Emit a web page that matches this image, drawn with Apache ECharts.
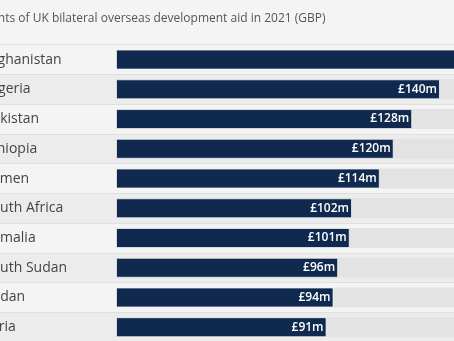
<!DOCTYPE html>
<html>
<head>
<meta charset="utf-8">
<script src="https://cdn.jsdelivr.net/npm/echarts@6/dist/echarts.min.js"></script>
<style>
html,body{margin:0;padding:0;background:#f4f4f4;}
#c{width:454px;height:341px;}
</style>
</head>
<body>
<div id="c"></div>
<script>
const titleText = 'Top recipients of UK bilateral overseas development aid in 2021 (GBP)';
const categories = ['Afghanistan','Nigeria','Pakistan','Ethiopia','Yemen','South Africa','Somalia','South Sudan','Sudan','Syria'];
const values = [246,140,128,120,114,102,101,96,94,91];
const axisMax = 260;

const chart = echarts.init(document.getElementById('c'));
const pxPerUnit = 2.314;
chart.setOption({
  backgroundColor: '#f4f4f4',
  animation: false,
  title: {
    text: titleText,
    left: -69, top: 8,
    textStyle: {fontFamily: 'Open Sans', fontSize: 12, fontWeight: 'normal', color: '#555555'}
  },
  grid: [
    {left: 116, top: 44.7, width: axisMax * pxPerUnit, height: 297.4, containLabel: false, outerBoundsMode: 'none'},
    {left: 0, top: 44.7, width: 454, height: 297.4, containLabel: false, outerBoundsMode: 'none'}
  ],
  xAxis: [
    {gridIndex: 0, type: 'value', min: 0, max: axisMax, show: false},
    {gridIndex: 1, type: 'value', min: 0, max: 1, show: false}
  ],
  yAxis: [
    {
      gridIndex: 0, type: 'category', data: categories, inverse: true,
      axisLine: {show: false}, axisTick: {show: false},
      axisLabel: {align: 'left', margin: 132, fontFamily: 'Open Sans', fontSize: 14, color: '#444444'}
    },
    {
      gridIndex: 1, type: 'category', data: categories, inverse: true,
      axisLine: {show: false}, axisTick: {show: false}, axisLabel: {show: false},
      splitArea: {show: true, areaStyle: {color: ['#f4f4f4', '#ececec']}},
      splitLine: {show: true, lineStyle: {color: '#e0e0e0', width: 1}},
      z: 0
    }
  ],
  series: [
    {
      type: 'bar', xAxisIndex: 0, yAxisIndex: 0,
      data: values, barWidth: 20,
      showBackground: true,
      backgroundStyle: {color: '#e3e3e3'},
      itemStyle: {color: '#0f2a4e', borderColor: 'rgba(255,255,255,0.7)', borderWidth: 1},
      label: {
        show: true, position: 'insideRight', distance: 3,
        formatter: p => '£' + p.value + 'm',
        fontFamily: 'Open Sans', fontSize: 12, fontWeight: 600, color: '#ffffff'
      },
      z: 3
    }
  ]
});
</script>
</body>
</html>
